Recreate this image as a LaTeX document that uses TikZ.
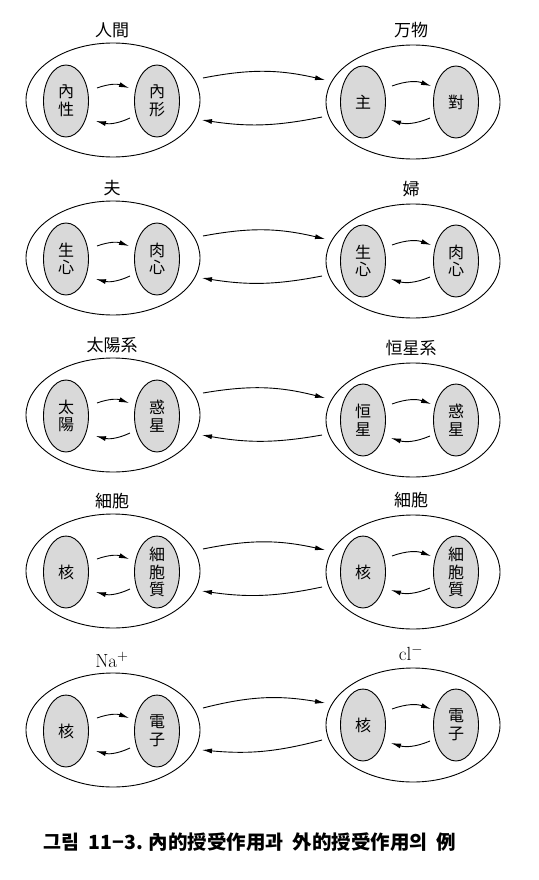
\documentclass[tikz,border=0pt]{standalone}
\usepackage{fontspec}
\newfontfamily\cjk{Noto Sans CJK KR}
\usetikzlibrary{shapes.geometric,arrows.meta,calc}
\tikzset{
  outerell/.style={ellipse,draw,line width=0.9pt,minimum width=174pt,minimum height=114pt,inner sep=0pt},
  innerell/.style={ellipse,draw,line width=0.9pt,fill=black!15,minimum width=45pt,minimum height=72pt,inner sep=0pt,
     align=center,font=\cjk\fontsize{16}{17.5}\selectfont},
  titlelbl/.style={font=\cjk\fontsize{17}{19}\selectfont,inner sep=0pt},
  arr/.style={line width=0.9pt,-{Latex[length=10pt,width=5pt]}},
}
\newcommand\pairrow[9]{%
  \node[outerell] (L#1) at (113,#2) {};
  \node[outerell] (R#1) at (413,#3) {};
  \node[innerell] (La#1) at (66,#2+1) {#6};
  \node[innerell] (Lb#1) at (157,#2+1) {#7};
  \node[innerell] (Ra#1) at (363,#3) {#8};
  \node[innerell] (Rb#1) at (456,#3) {#9};
  \node[titlelbl] (Lt#1) at (112,#2-70) {#4};
  \node[titlelbl] (Rt#1) at (411,#3-72) {#5};
  \draw[arr] ($(La#1)+(31,-13)$) to[bend left=20] ($(Lb#1)+(-28,-13)$);
  \draw[arr] ($(Lb#1)+(-27,17)$) to[bend left=20] ($(La#1)+(30,20)$);
  \draw[arr] ($(Ra#1)+(29,-16)$) to[bend left=20] ($(Rb#1)+(-25,-16)$);
  \draw[arr] ($(Rb#1)+(-26,16)$) to[bend left=20] ($(Ra#1)+(28,18)$);
  \draw[arr] ($(L#1)+(90,-22)$) to[bend left=12] ($(R#1)+(-88,-22)$);
  \draw[arr] ($(R#1)+(-91,15)$) to[bend left=10] ($(L#1)+(89,20)$);
}
\newcommand\latinlbl[1]{\rmfamily\fontsize{19}{21}\selectfont #1}
\begin{document}
\begin{tikzpicture}[x=1pt,y=-1pt]
\useasboundingbox (0,0) rectangle (538,880);
\pairrow{1}{100}{102}{人間}{万物}{內\\性}{內\\形}{主}{對}
\pairrow{2}{258}{261}{夫}{婦}{生\\心}{肉\\心}{生\\心}{肉\\心}
\pairrow{3}{415}{420}{太陽系}{恒星系}{太\\陽}{惑\\星}{恒\\星}{惑\\星}
\pairrow{4}{571}{572}{細胞}{細胞}{核}{\fontsize{16}{18.5}\selectfont 細\\胞\\質}{核}{\fontsize{16}{18.5}\selectfont 細\\胞\\質}
\pairrow{5}{730}{725}{\latinlbl{Na$^{+}$}}{\latinlbl{cl$^{-}$}}{核}{電\\子}{核}{電\\子}
\node[font=\cjk\bfseries\fontsize{19.5}{22}\selectfont,inner sep=0pt] (cap) at (250,842) {그림\ \ 11−3. 內的授受作用과\ \ 外的授受作用의\ \ 例};
\end{tikzpicture}
\end{document}
